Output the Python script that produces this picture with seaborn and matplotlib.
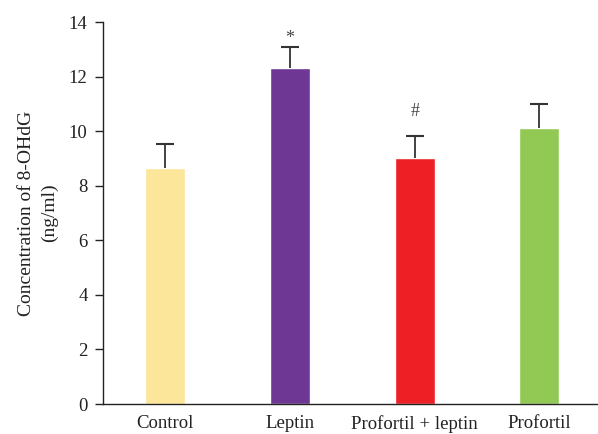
import matplotlib
matplotlib.use("Agg")
import matplotlib.pyplot as plt
import pandas as pd
import seaborn as sns

groups = ["Control", "Leptin", "Profortil + leptin", "Profortil"]
means = [8.65, 12.31, 9.01, 10.11]
errors = [0.89, 0.77, 0.80, 0.89]
marks = ["", "*", "#", ""]
mark_y = [None, 13.23, 10.55, None]
colors = ["#FCE699", "#6D3793", "#EE1F25", "#92C954"]

df = pd.DataFrame({"group": groups, "mean": means})

sns.set_theme(style="white")
plt.rcParams["font.family"] = ["Liberation Serif", "DejaVu Serif"]

fig = plt.figure(figsize=(5.98, 4.34), dpi=100)
ax = fig.add_axes([0.172, 0.069, 0.826, 0.880])

sns.barplot(data=df, x="group", y="mean", hue="group", palette=colors,
            width=0.32, legend=False, ax=ax, saturation=1)

xs = list(range(len(groups)))
# only the upper half of the error bar is shown
_, caps, _ = ax.errorbar(xs, means, yerr=[[0] * len(errors), errors],
                         fmt="none", ecolor="#333333", elinewidth=1.3,
                         capsize=6.5, capthick=1.5)
caps[0].set_visible(False)

for x, t, ty in zip(xs, marks, mark_y):
    if t:
        ax.text(x, ty, t, ha="center", va="baseline",
                fontsize=13, color="#444444")

ax.set_xlim(-0.5, 3.46)
ax.set_ylim(0, 14)
ax.set_yticks(range(0, 15, 2))
ax.set_xlabel("")
ax.set_ylabel("Concentration of 8-OHdG\n(ng/ml)", fontsize=14,
              linespacing=1.4, labelpad=8, color="#222222")
ax.tick_params(axis="y", which="both", left=True, length=6, width=1,
               labelsize=13.5, colors="#222222", pad=5)
ax.tick_params(axis="x", bottom=False, labelsize=13.5, colors="#222222", pad=2)
sns.despine(ax=ax, top=True, right=True)
for s in ["left", "bottom"]:
    ax.spines[s].set_color("#222222")
    ax.spines[s].set_linewidth(1.0)

fig.savefig("out.png", dpi=100)
